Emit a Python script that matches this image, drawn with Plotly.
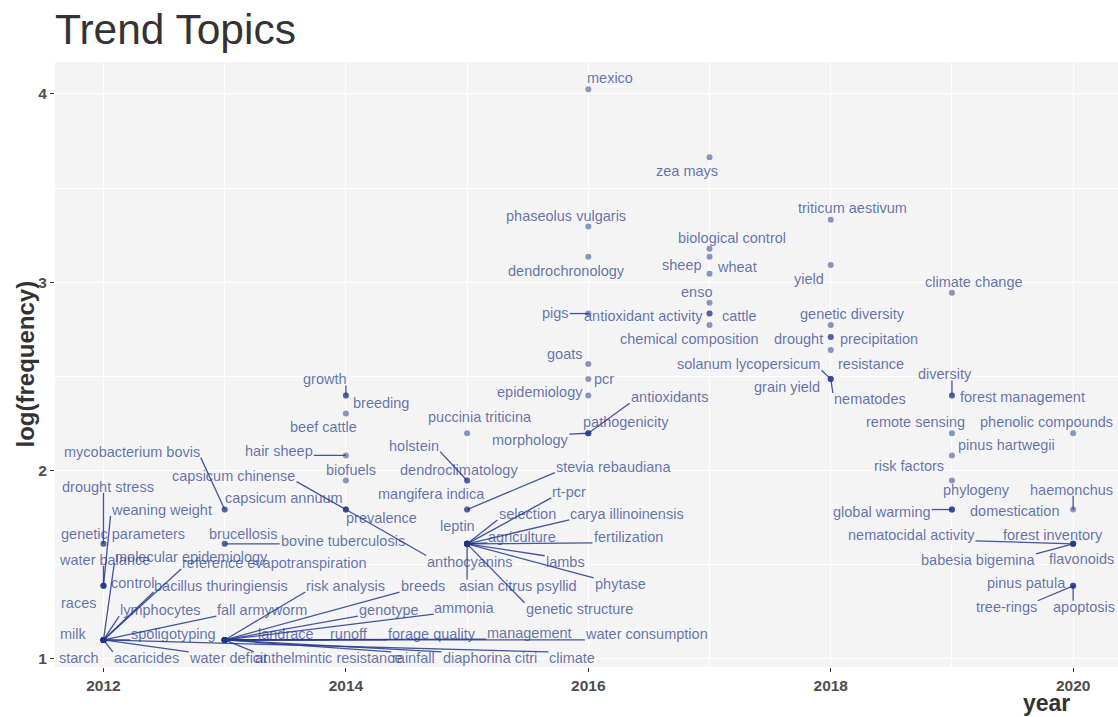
import numpy as np
import plotly.graph_objects as go

# ---- data: topic, median year, frequency -------------------------------
topics = [
    # 2012
    "milk", "starch", "lymphocytes", "bacillus thuringiensis", "molecular epidemiology",
    "reference evapotranspiration", "fall armyworm", "spoligotyping", "acaricides",
    "water deficit", "climate",
    "water balance", "control", "weaning weight", "races",
    "genetic parameters", "drought stress",
    # 2013
    "risk analysis", "breeds", "genotype", "ammonia", "landrace", "runoff", "forage quality",
    "management", "water consumption", "anthelmintic resistance", "rainfall", "diaphorina citri",
    "brucellosis", "bovine tuberculosis",
    "mycobacterium bovis", "capsicum annuum",
    # 2014
    "growth", "breeding", "beef cattle", "hair sheep", "biofuels",
    "capsicum chinense", "prevalence", "anthocyanins",
    # 2015
    "puccinia triticina", "holstein", "dendroclimatology", "mangifera indica", "stevia rebaudiana",
    "leptin", "rt-pcr", "selection", "carya illinoinensis", "agriculture", "fertilization",
    "lambs", "asian citrus psyllid", "phytase", "genetic structure",
    # 2016
    "mexico", "phaseolus vulgaris", "dendrochronology", "pigs", "goats", "pcr", "epidemiology",
    "antioxidants", "pathogenicity", "morphology",
    # 2017
    "zea mays", "biological control", "sheep", "wheat", "enso", "antioxidant activity",
    "cattle", "chemical composition",
    # 2018
    "triticum aestivum", "yield", "genetic diversity", "drought", "precipitation", "resistance",
    "solanum lycopersicum", "grain yield", "nematodes",
    # 2019
    "climate change", "diversity", "forest management", "remote sensing", "pinus hartwegii",
    "risk factors", "phylogeny", "global warming", "domestication",
    # 2020
    "phenolic compounds", "haemonchus", "nematocidal activity", "forest inventory",
    "babesia bigemina", "flavonoids", "pinus patula", "tree-rings", "apoptosis",
]

years = (
    [2012] * 17
    + [2013] * 16
    + [2014] * 8
    + [2015] * 15
    + [2016] * 10
    + [2017] * 8
    + [2018] * 9
    + [2019] * 9
    + [2020] * 9
)

freqs = [
    # 2012
    3, 3, 3, 3, 3, 3, 3, 3, 3, 3, 3,
    4, 4, 4, 4,
    5, 5,
    # 2013
    3, 3, 3, 3, 3, 3, 3, 3, 3, 3, 3, 3,
    5, 5,
    6, 6,
    # 2014
    11, 11, 10, 8, 7, 6, 6, 6,
    # 2015
    9, 7, 7, 6, 6, 5, 5, 5, 5, 5, 5, 5, 5, 5, 5,
    # 2016
    56, 27, 23, 17, 13, 12, 11, 9, 9, 9,
    # 2017
    39, 24, 23, 21, 18, 17, 17, 16,
    # 2018
    28, 22, 16, 15, 15, 14, 12, 12, 12,
    # 2019
    19, 11, 11, 9, 8, 7, 6, 6, 6,
    # 2020
    9, 6, 5, 5, 5, 5, 4, 4, 4,
]

log_freq = np.log(np.array(freqs, dtype=float))

# ---- repelled label placement: pixel offset of label centre from its point, leader line? ----
label_layout = {
    "milk": (-30, -6, False), "starch": (-24, 18, False), "lymphocytes": (57, -30, True),
    "bacillus thuringiensis": (118, -54, True), "molecular epidemiology": (88, -83, True),
    "reference evapotranspiration": (171, -77, True), "fall armyworm": (159, -30, True),
    "spoligotyping": (70, -6, True), "acaricides": (43, 18, True), "water deficit": (125, 18, True),
    "climate": (469, 18, True),
    "water balance": (1, -26, True), "control": (30, -3, False), "weaning weight": (58, -76, True),
    "races": (-25, 17, False),
    "genetic parameters": (20, -10, False), "drought stress": (5, -57, True),
    "risk analysis": (121, -54, True), "breeds": (198, -54, True), "genotype": (164, -30, True),
    "ammonia": (240, -32, True), "landrace": (61, -6, True), "runoff": (124, -6, True),
    "forage quality": (207, -6, True), "management": (305, -7, True),
    "water consumption": (422, -6, True), "anthelmintic resistance": (104, 18, True),
    "rainfall": (189, 18, True), "diaphorina citri": (265, 18, True),
    "brucellosis": (19, -10, False), "bovine tuberculosis": (118, -3, True),
    "mycobacterium bovis": (-93, -58, True), "capsicum annuum": (59, -12, False),
    "growth": (-21, -16, True), "breeding": (35, 8, False), "beef cattle": (-22, 14, False),
    "hair sheep": (-67, -4, True), "biofuels": (5, -11, False),
    "capsicum chinense": (-112, -34, True), "prevalence": (36, 8, False),
    "anthocyanins": (124, 52, True),
    "puccinia triticina": (13, -16, False), "holstein": (-53, -35, True),
    "dendroclimatology": (-8, -11, False), "mangifera indica": (-36, -16, False),
    "stevia rebaudiana": (146, -43, True), "leptin": (-10, -18, False),
    "rt-pcr": (102, -52, True), "selection": (60, -30, True), "carya illinoinensis": (160, -30, True),
    "agriculture": (55, -7, True), "fertilization": (161, -7, True), "lambs": (98, 18, True),
    "asian citrus psyllid": (51, 42, True), "phytase": (153, 40, True),
    "genetic structure": (112, 65, True),
    "mexico": (22, -11, False), "phaseolus vulgaris": (-22, -11, False),
    "dendrochronology": (-22, 14, False), "pigs": (-33, -1, True), "goats": (-24, -10, False),
    "pcr": (16, 0, False), "epidemiology": (-48, -3, False), "antioxidants": (81, -36, True),
    "pathogenicity": (38, -11, False), "morphology": (-58, 7, True),
    "zea mays": (-23, 14, False), "biological control": (22, -11, False), "sheep": (-28, 8, False),
    "wheat": (27, -7, False), "enso": (-13, -11, False), "antioxidant activity": (-66, 2, False),
    "cattle": (30, 2, False), "chemical composition": (-20, 14, False),
    "triticum aestivum": (22, -12, False), "yield": (-22, 14, False),
    "genetic diversity": (22, -11, False), "drought": (-32, 2, False),
    "precipitation": (48, 2, False), "resistance": (40, 14, False),
    "solanum lycopersicum": (-82, -15, True), "grain yield": (-44, 8, False),
    "nematodes": (39, 20, True),
    "climate change": (22, -11, False), "diversity": (-7, -21, True),
    "forest management": (71, 2, False), "remote sensing": (-36, -11, False),
    "pinus hartwegii": (55, -10, False), "risk factors": (-43, -15, False),
    "phylogeny": (25, -20, False), "global warming": (-70, 2, True),
    "domestication": (63, 1, False),
    "phenolic compounds": (-27, -11, False), "haemonchus": (-2, -20, True),
    "nematocidal activity": (-162, -9, True), "forest inventory": (-20, -9, False),
    "babesia bigemina": (-95, 16, True), "flavonoids": (8, 15, False),
    "pinus patula": (-47, -3, False), "tree-rings": (-67, 21, True), "apoptosis": (11, 21, True),
}

POINT_COL = "rgba(30,50,135,0.5)"
TEXT_COL = "rgba(40,62,140,0.72)"
SEG_COL = "rgba(35,55,140,0.85)"
FONT = "Arial, Liberation Sans, Helvetica, sans-serif"
LABEL_SIZE = 14.5

# figure geometry (pixels)
W, H = 1118, 717
M_L, M_R, M_T, M_B = 55, 0, 62, 50
X_RANGE = [2011.6, 2020.37]
Y_RANGE = [0.955, 4.17]
PW, PH = W - M_L - M_R, H - M_T - M_B


def to_px(x, y):
    px = M_L + (x - X_RANGE[0]) / (X_RANGE[1] - X_RANGE[0]) * PW
    py = M_T + (Y_RANGE[1] - y) / (Y_RANGE[1] - Y_RANGE[0]) * PH
    return px, py


def from_px(px, py):
    x = X_RANGE[0] + (px - M_L) / PW * (X_RANGE[1] - X_RANGE[0])
    y = Y_RANGE[1] - (py - M_T) / PH * (Y_RANGE[1] - Y_RANGE[0])
    return x, y


# Arial advance widths (em) for estimating label boxes
CHAR_W = dict(zip("abcdefghijklmnopqrstuvwxyz",
                  [.556, .556, .5, .556, .556, .278, .556, .556, .222, .222, .5, .222, .833,
                   .556, .556, .556, .556, .333, .5, .278, .556, .5, .722, .5, .5, .5]))
CHAR_W.update({" ": .278, "-": .333})


def text_width(s):
    return sum(CHAR_W.get(c, .556) for c in s) * LABEL_SIZE


# leader segments: from each point to the nearest point of its label box
seg_x, seg_y = [], []
for t, yr, lf in zip(topics, years, log_freq):
    dx, dy, seg = label_layout[t]
    if not seg:
        continue
    px, py = to_px(yr, lf)
    cx, cy = px + dx, py + dy
    hw, hh = text_width(t) / 2 + 1, LABEL_SIZE * 0.42
    nx = min(max(px, cx - hw), cx + hw)
    ny = min(max(py, cy - hh), cy + hh)
    ex, ey = from_px(nx, ny)
    seg_x += [yr, ex, None]
    seg_y += [lf, ey, None]

fig = go.Figure()

fig.add_trace(go.Scatter(
    x=years, y=log_freq, mode="markers",
    marker=dict(size=6, color=POINT_COL, line=dict(width=0)),
    text=topics, hoverinfo="text", showlegend=False,
))
fig.add_trace(go.Scatter(
    x=seg_x, y=seg_y, mode="lines",
    line=dict(color=SEG_COL, width=1.3),
    hoverinfo="skip", showlegend=False,
))

annotations = []
for t, yr, lf in zip(topics, years, log_freq):
    dx, dy, _ = label_layout[t]
    annotations.append(dict(
        x=yr, y=lf, xref="x", yref="y", text=t, showarrow=False,
        xanchor="center", yanchor="middle", xshift=dx, yshift=-dy,
        font=dict(family=FONT, size=LABEL_SIZE, color=TEXT_COL),
    ))

# titles
annotations.append(dict(
    text="Trend Topics", xref="paper", yref="paper", x=0.0, y=1.0,
    xanchor="left", yanchor="bottom", xshift=-2, yshift=7, showarrow=False,
    font=dict(family=FONT, size=42.5, color="#333333"),
))
annotations.append(dict(
    text="<b>log(frequency)</b>", xref="paper", yref="paper", x=0.0, y=0.5,
    xanchor="center", yanchor="middle", xshift=-30, textangle=-90, showarrow=False,
    font=dict(family=FONT, size=24, color="#333333"),
))
annotations.append(dict(
    text="<b>year</b>", xref="paper", yref="paper", x=1.0, y=0.0,
    xanchor="right", yanchor="top", xshift=-46, yshift=-21, showarrow=False,
    font=dict(family=FONT, size=23, color="#333333"),
))

fig.update_layout(
    width=W, height=H,
    margin=dict(l=M_L, r=M_R, t=M_T, b=M_B),
    paper_bgcolor="white", plot_bgcolor="#F4F4F4",
    annotations=annotations,
    font=dict(family=FONT),
    xaxis=dict(
        range=X_RANGE, tickvals=[2012, 2014, 2016, 2018, 2020],
        ticktext=["<b>%d</b>" % v for v in [2012, 2014, 2016, 2018, 2020]],
        ticks="outside", ticklen=4, tickwidth=1.2, tickcolor="#333333",
        tickfont=dict(family=FONT, size=15.5, color="#4D4D4D"),
        showgrid=True, gridcolor="white", gridwidth=1.3, zeroline=False, showline=False,
        minor=dict(tickvals=[2013, 2015, 2017, 2019], showgrid=True, gridcolor="white", gridwidth=0.6),
    ),
    yaxis=dict(
        range=Y_RANGE, tickvals=[1, 2, 3, 4],
        ticktext=["<b>%d</b>" % v for v in [1, 2, 3, 4]],
        ticks="outside", ticklen=4, tickwidth=1.2, tickcolor="#333333",
        tickfont=dict(family=FONT, size=15.5, color="#4D4D4D"),
        showgrid=True, gridcolor="white", gridwidth=1.3, zeroline=False, showline=False,
        minor=dict(tickvals=[1.5, 2.5, 3.5], showgrid=True, gridcolor="white", gridwidth=0.6),
    ),
)

fig.write_html("out.html")
